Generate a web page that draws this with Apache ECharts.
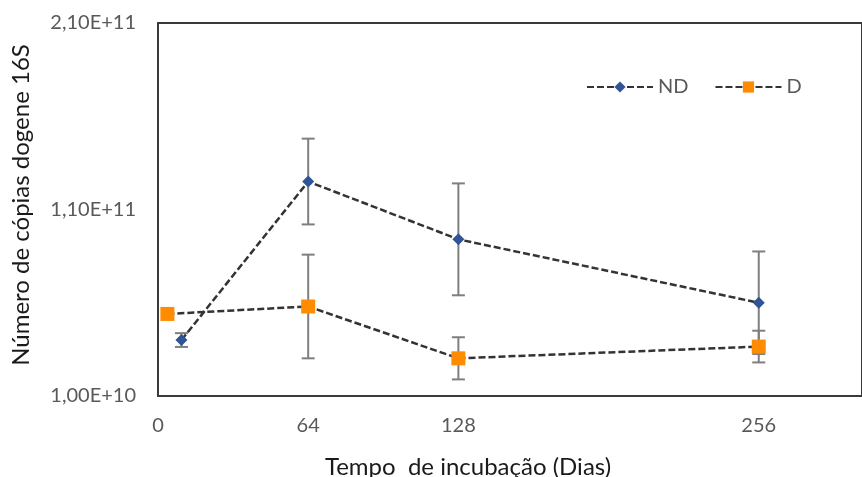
<!DOCTYPE html>
<html>
<head>
<meta charset="utf-8">
<script src="https://cdn.jsdelivr.net/npm/echarts@6/dist/echarts.min.js"></script>
<style>
  html, body { margin: 0; padding: 0; background: #fff; }
  #chart { width: 862px; height: 477px; }
</style>
</head>
<body>
<div id="chart"></div>
<script>
// Incubation days and 16S gene copy numbers
const daysND = [10, 64, 128, 256];
const valuesND = [4.0e10, 1.25e11, 9.4e10, 6.0e10];
const errND = [0.37e10, 2.3e10, 3.0e10, 2.75e10];

const daysD = [4, 64, 128, 256];
const valuesD = [5.4e10, 5.8e10, 3.02e10, 3.65e10];
const errD = [0, 2.78e10, 1.13e10, 0.85e10];

const xTicks = [0, 64, 128, 256];
const yTicks = [1e10, 1.1e11, 2.1e11];

const FONT = 'Lato';

function fmtSci(v) {
  return v.toExponential(2).replace('.', ',').replace('e', 'E');
}

function pairs(xs, ys) {
  return xs.map((x, i) => [x, ys[i]]);
}

function errRows(xs, ys, es) {
  const rows = [];
  xs.forEach((x, i) => {
    if (es[i] > 0) rows.push([x, ys[i] - es[i], ys[i] + es[i]]);
  });
  return rows;
}

// Vertical error bar with caps
function renderErr(params, api) {
  const x = api.value(0);
  const lo = api.coord([x, api.value(1)]);
  const hi = api.coord([x, api.value(2)]);
  const half = 6.5;
  const style = { stroke: '#7f7f7f', lineWidth: 2 };
  return {
    type: 'group',
    children: [
      { type: 'line', shape: { x1: lo[0], y1: lo[1], x2: hi[0], y2: hi[1] }, style },
      { type: 'line', shape: { x1: lo[0] - half, y1: lo[1], x2: lo[0] + half, y2: lo[1] }, style },
      { type: 'line', shape: { x1: hi[0] - half, y1: hi[1], x2: hi[0] + half, y2: hi[1] }, style }
    ]
  };
}

const chart = echarts.init(document.getElementById('chart'), null, { renderer: 'canvas' });

const dashed = { color: '#333333', width: 2.5, type: [7, 3] };

chart.setOption({
  animation: false,
  backgroundColor: '#ffffff',
  textStyle: { fontFamily: FONT },
  grid: {
    left: 158, top: 23, right: -11, bottom: 81,
    show: true, borderColor: '#3a3a3a', borderWidth: 2, backgroundColor: 'transparent'
  },
  legend: {
    left: 581, top: 72,
    itemWidth: 66, itemHeight: 14, itemGap: 26,
    textStyle: { color: '#595959', fontSize: 20, fontFamily: FONT },
    data: ['ND', 'D']
  },
  xAxis: {
    type: 'value', min: 0, max: 300,
    axisLine: { show: false },
    axisTick: { show: false },
    splitLine: { show: false },
    axisLabel: {
      customValues: xTicks,
      color: '#595959', fontSize: 20, fontFamily: FONT, margin: 20
    }
  },
  yAxis: {
    type: 'value', min: 1e10, max: 2.1e11,
    axisLine: { show: false },
    axisTick: { show: false },
    splitLine: { show: false },
    axisLabel: {
      customValues: yTicks,
      formatter: fmtSci,
      color: '#595959', fontSize: 20, fontFamily: FONT, margin: 22
    }
  },
  graphic: [
    {
      type: 'text', x: 21, y: 205, rotation: Math.PI / 2,
      style: {
        text: 'Número de cópias dogene 16S',
        fill: '#1a1a1a', font: '24px ' + FONT, align: 'center', verticalAlign: 'middle'
      }
    },
    {
      type: 'text', x: 468, y: 467,
      style: {
        text: 'Tempo  de incubação (Dias)',
        fill: '#1a1a1a', font: '24px ' + FONT, align: 'center', verticalAlign: 'middle'
      }
    }
  ],
  series: [
    {
      type: 'custom', name: 'errND', renderItem: renderErr,
      data: errRows(daysND, valuesND, errND), z: 2, silent: true
    },
    {
      type: 'custom', name: 'errD', renderItem: renderErr,
      data: errRows(daysD, valuesD, errD), z: 2, silent: true
    },
    {
      name: 'ND', type: 'line', data: pairs(daysND, valuesND),
      symbol: 'diamond', symbolSize: 12,
      itemStyle: { color: '#2f5597' },
      lineStyle: dashed, z: 3
    },
    {
      name: 'D', type: 'line', data: pairs(daysD, valuesD),
      symbol: 'rect', symbolSize: 14,
      itemStyle: { color: '#ff8c00' },
      lineStyle: dashed, z: 3
    }
  ]
});
</script>
</body>
</html>
